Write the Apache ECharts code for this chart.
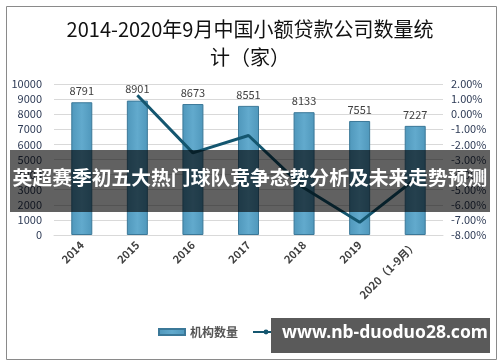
<!DOCTYPE html>
<html>
<head>
<meta charset="utf-8">
<script src="https://cdn.jsdelivr.net/npm/echarts@6/dist/echarts.min.js"></script>
<style>html,body{margin:0;padding:0;background:#fff;}#c{width:500px;height:362px;}</style>
</head>
<body>
<div id="c"></div>
<script>
var categories = ['2014', '2015', '2016', '2017', '2018', '2019', '2020（1-9月）'];
var counts = [8791, 8901, 8673, 8551, 8133, 7551, 7227];
var growth = [null, 1.25, -2.56, -1.41, -4.89, -7.16, -4.29];
var leftTicks = {min: 0, max: 10000, interval: 1000};
var rightTicks = {min: -8, max: 2, interval: 1};
var titleText = '2014-2020年9月中国小额贷款公司数量统\n计（家）';
var seriesNames = ['机构数量', '同比增速'];
var bannerText = '英超赛季初五大热门球队竞争态势分析及未来走势预测';
var watermarkText = 'www.nb-duoduo28.com';

var chart = echarts.init(document.getElementById('c'), null, {renderer: 'canvas'});
var font = '"Noto Sans CJK SC", "Noto Sans", sans-serif';
chart.setOption({
  backgroundColor: '#fff',
  animation: false,
  textStyle: {fontFamily: font},
  title: {
    text: titleText, left: 'center', top: 10,
    textStyle: {fontSize: 20, fontWeight: 'normal', color: '#111', lineHeight: 28, fontFamily: '"Noto Sans CJK SC", serif'}
  },
  legend: {
    bottom: 19, left: 153, itemGap: 14, itemWidth: 26, itemHeight: 6,
    textStyle: {fontSize: 12, color: '#555', fontWeight: 'bold'},
    data: [{name: seriesNames[0], icon: 'rect'}, {name: seriesNames[1]}]
  },
  grid: {left: 54, right: 57, top: 84, bottom: 127},
  xAxis: {
    type: 'category', data: categories,
    axisLine: {lineStyle: {color: '#d9d9d9'}},
    axisTick: {show: false},
    axisLabel: {rotate: 45, fontSize: 11, fontWeight: 'bold', color: '#404040', margin: 8, interval: 0}
  },
  yAxis: [{
    type: 'value', min: leftTicks.min, max: leftTicks.max, interval: leftTicks.interval,
    axisLine: {show: false}, axisTick: {show: false},
    splitLine: {lineStyle: {color: '#d9d9d9'}},
    axisLabel: {fontSize: 11, color: '#2d3a55', margin: 12, formatter: function (v) { return String(v); }}
  }, {
    type: 'value', min: rightTicks.min, max: rightTicks.max, interval: rightTicks.interval,
    axisLine: {show: false}, axisTick: {show: false}, splitLine: {show: false},
    axisLabel: {fontSize: 11, color: '#2d3a55', margin: 8, formatter: function (v) { return v.toFixed(2) + '%'; }}
  }],
  series: [{
    name: seriesNames[0], type: 'bar', data: counts, barWidth: 21,
    itemStyle: {
      color: new echarts.graphic.LinearGradient(0, 0, 1, 0, [
        {offset: 0, color: '#4f97bb'}, {offset: 0.5, color: '#62aacd'}, {offset: 1, color: '#4f97bb'}
      ]),
      borderColor: '#3b7898', borderWidth: 1
    },
    label: {show: true, position: 'top', distance: 6, fontSize: 11, color: '#404040'}
  }, {
    name: seriesNames[1], type: 'line', yAxisIndex: 1, data: growth,
    symbol: 'none', lineStyle: {color: '#14566f', width: 3}, itemStyle: {color: '#14566f'}
  }],
  graphic: [
    {type: 'rect', left: 4, top: 4, shape: {width: 490, height: 353}, style: {fill: 'none', stroke: '#8a8a8a', lineWidth: 1}, z: 100},
    {type: 'rect', left: 10, top: 150, shape: {width: 480, height: 62}, style: {fill: 'rgba(0,0,0,0.62)'}, z: 100},
    {type: 'text', left: 'center', top: 168, style: {text: bannerText, fill: '#fff', font: 'bold 19.8px "Noto Sans CJK SC", sans-serif'}, z: 101},
    {type: 'rect', left: 271, top: 318, shape: {width: 219, height: 35}, style: {fill: '#5a5a5a'}, z: 100},
    {type: 'text', left: 282, top: 324, style: {text: watermarkText, fill: '#fff', font: 'bold 17.5px "Noto Sans", "DejaVu Sans", sans-serif'}, z: 101}
  ]
});
</script>
</body>
</html>
